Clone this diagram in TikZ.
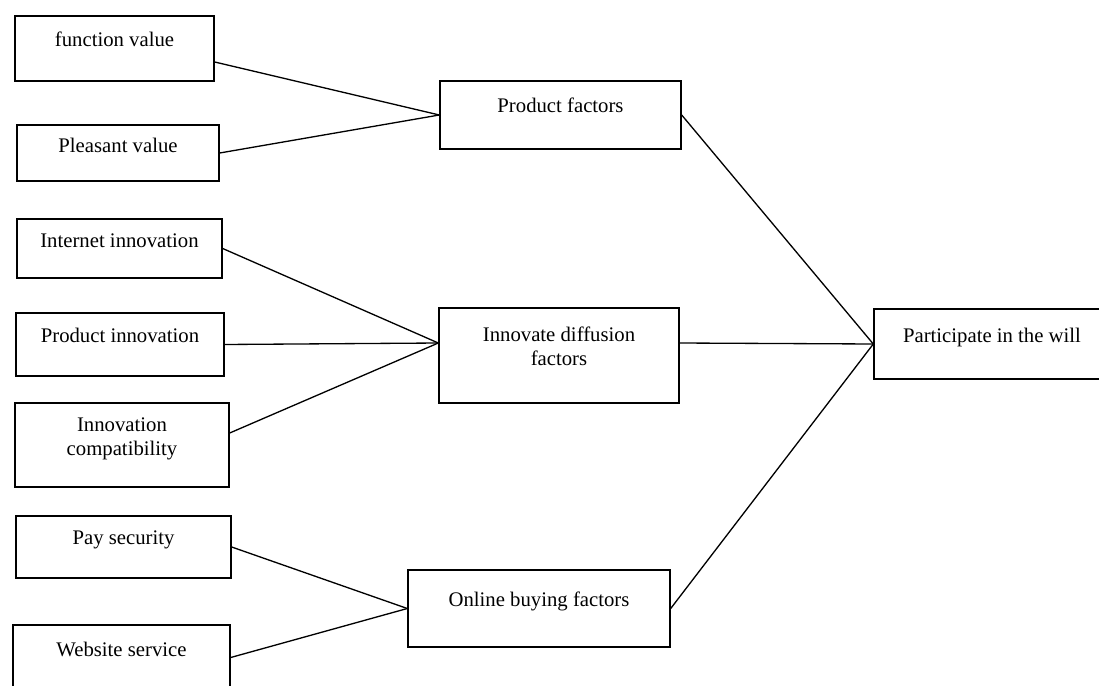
\documentclass[tikz,border=0pt]{standalone}
\usepackage{fontspec}
\setmainfont{Liberation Serif}
\usetikzlibrary{fit}
\begin{document}
\begin{tikzpicture}[x=0.02cm, y=-0.02cm,
        box/.style={draw, line width=0.8pt, inner sep=0pt},
        txt/.style={anchor=base, yshift=-#1*0.02cm, align=center, inner sep=0pt,
            font=\fontsize{11.8pt}{13.6pt}\selectfont},
        link/.style={line width=0.75pt}]
        \path [use as bounding box] (0,0) rectangle (1099,686);
        \clip (0,0) rectangle (1099,686);

        % Groupe 1 : produit
        \node [box, fit={(15,16) (214,81)}, label={[txt=31]north:function value}] (fv) {};
        \node [box, fit={(17,125) (219,181)}, label={[txt=28]north:Pleasant value}] (pv) {};
        \node [box, fit={(440,81) (681,149)}, label={[txt=32]north:Product factors}] (pf) {};

        % Groupe 2 : innovation
        \node [box, fit={(17,219) (222,278)}, label={[txt=29]north:Internet innovation}] (ii) {};
        \node [box, fit={(16,313) (224,376)}, label={[txt=30]north:Product innovation}] (pi) {};
        \node [box, fit={(15,403) (229,487)}, label={[txt=53]north:Innovation\\compatibility}] (ic) {};
        \node [box, fit={(439,308) (679,403)}, label={[txt=58]north:Innovate diffusion\\factors}] (idf) {};

        % Groupe 3 : achat en ligne
        \node [box, fit={(16,516) (231,578)}, label={[txt=29]north:Pay security}] (ps) {};
        \node [box, fit={(13,625) (230,690)}, label={[txt=32]north:Website service}] (ws) {};
        \node [box, fit={(408,570) (670,647)}, label={[txt=37]north:Online buying factors}] (obf) {};

        % Résultat
        \node [box, fit={(874,309) (1110,379)}, label={[txt=34]north:Participate in the will}] (pw) {};

        % Liaisons
        \draw [link] ([yshift=-0.27cm]fv.east) -- (pf.west);
        \draw [link] (pv.east) -- (pf.west);
        \draw [link] (ii.east) -- ([yshift=0.25cm]idf.west);
        \draw [link] (pi.east) -- ([yshift=0.25cm]idf.west);
        \draw [link] ([yshift=0.24cm]ic.east) -- ([yshift=0.25cm]idf.west);
        \draw [link] (ps.east) -- (obf.west);
        \draw [link] (ws.east) -- (obf.west);
        \draw [link] (pf.east) -- (pw.west);
        \draw [link] ([yshift=0.25cm]idf.east) -- (pw.west);
        \draw [link] (obf.east) -- (pw.west);
    \end{tikzpicture}
\end{document}
